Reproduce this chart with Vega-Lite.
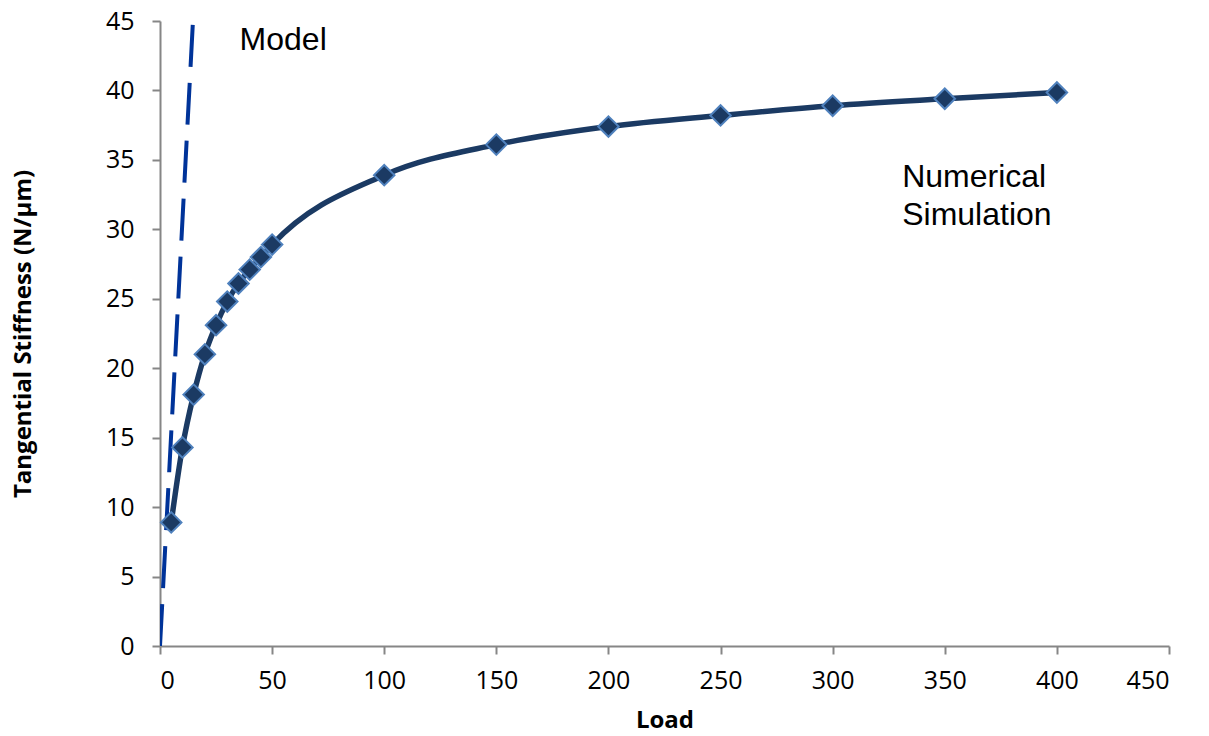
{
  "$schema": "https://vega.github.io/schema/vega-lite/v6.json",
  "width": 1009,
  "height": 625,
  "autosize": {"type": "none"},
  "padding": {"left": 160, "top": 21, "right": 40, "bottom": 90},
  "background": "white",
  "config": {
    "view": {"stroke": null},
    "axis": {
      "grid": false,
      "domainColor": "#868686",
      "domainWidth": 2,
      "tickColor": "#868686",
      "tickWidth": 2,
      "tickSize": 8,
      "labelFont": "Open Sans",
      "labelFontSize": 25,
      "labelColor": "#000000",
      "titleFont": "Open Sans",
      "titleFontWeight": "bold",
      "titleFontSize": 24,
      "titleColor": "#000000"
    }
  },
  "datasets": {
    "simulation": [
      {"load": 5, "stiffness": 8.9},
      {"load": 10, "stiffness": 14.3},
      {"load": 15, "stiffness": 18.1},
      {"load": 20, "stiffness": 21.0},
      {"load": 25, "stiffness": 23.1},
      {"load": 30, "stiffness": 24.8},
      {"load": 35, "stiffness": 26.1},
      {"load": 40, "stiffness": 27.1},
      {"load": 45, "stiffness": 28.0},
      {"load": 50, "stiffness": 28.9},
      {"load": 100, "stiffness": 33.9},
      {"load": 150, "stiffness": 36.1},
      {"load": 200, "stiffness": 37.4},
      {"load": 250, "stiffness": 38.2},
      {"load": 300, "stiffness": 38.9},
      {"load": 350, "stiffness": 39.4},
      {"load": 400, "stiffness": 39.85}
    ],
    "model": [
      {"load": 0, "stiffness": 0},
      {"load": 14.7, "stiffness": 45}
    ],
    "labels": [
      {"load": 35.5, "stiffness": 42.9, "text": ["Model"]},
      {"load": 331, "stiffness": 33.05, "text": ["Numerical", "Simulation"]}
    ]
  },
  "encoding": {
    "x": {
      "field": "load",
      "type": "quantitative",
      "scale": {"domain": [0, 450], "nice": false, "zero": true},
      "axis": {"values": [0, 50, 100, 150, 200, 250, 300, 350, 400, 450], "title": "Load", "labelPadding": 14, "titlePadding": 15}
    },
    "y": {
      "field": "stiffness",
      "type": "quantitative",
      "scale": {"domain": [0, 45], "nice": false},
      "axis": {"values": [0, 5, 10, 15, 20, 25, 30, 35, 40, 45], "title": "Tangential Stiffness (N/µm)", "labelPadding": 18, "titlePadding": 70}
    }
  },
  "layer": [
    {
      "data": {"name": "model"},
      "mark": {"type": "line", "color": "#003399", "strokeWidth": 4, "strokeDash": [42, 16], "clip": true}
    },
    {
      "data": {"name": "simulation"},
      "mark": {"type": "line", "color": "#1B3A63", "strokeWidth": 5.5, "interpolate": "monotone"}
    },
    {
      "data": {"name": "simulation"},
      "mark": {"type": "point", "shape": "diamond", "filled": true, "fill": "#1B3A63", "stroke": "#4F81BD", "strokeWidth": 2, "size": 420, "opacity": 1}
    },
    {
      "data": {"name": "labels"},
      "mark": {"type": "text", "font": "Liberation Sans", "fontSize": 32, "align": "left", "baseline": "alphabetic", "lineHeight": 38, "color": "#000000"},
      "encoding": {"text": {"field": "text"}}
    }
  ]
}
